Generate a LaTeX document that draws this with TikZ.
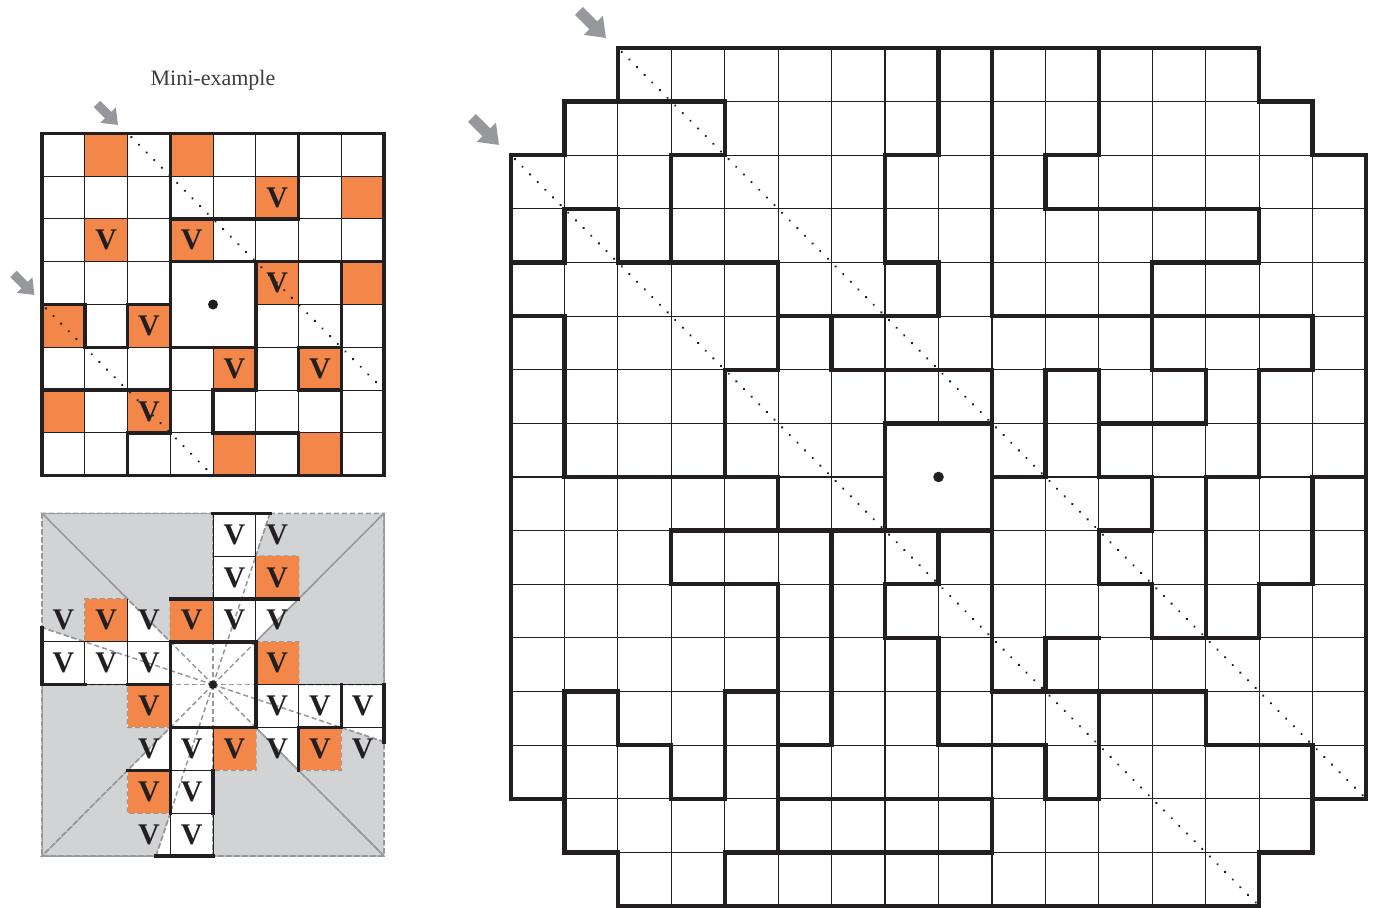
\documentclass[tikz,border=0pt]{standalone}
\usepackage{fontspec}
\setmainfont{Liberation Serif}
\usetikzlibrary{arrows.meta}
\definecolor{inkblack}{RGB}{35,31,32}
\definecolor{cellorange}{RGB}{243,135,73}
\definecolor{shadegray}{RGB}{209,211,212}
\definecolor{dashgray}{RGB}{150,152,155}
\definecolor{arrowgray}{RGB}{150,152,155}
\definecolor{titlegray}{RGB}{60,60,60}
\tikzset{
  gridline/.style={draw=inkblack,line width=0.6pt},
  minigrid/.style={draw=inkblack,line width=0.5pt},
  bigwall/.style={draw=inkblack,line width=2.15pt,line cap=rect,line join=miter},
  miniwall/.style={draw=inkblack,line width=1.75pt,line cap=rect,line join=miter},
  diagdots/.style={draw=inkblack,line width=1.3pt,line cap=round,dash pattern=on 0.01pt off 5.4pt,dash phase=2.7pt},
  orangecell/.style={fill=cellorange},
  vmark/.style={font=\fontsize{15}{15}\selectfont\bfseries,text=inkblack,inner sep=0pt},
  shadowzone/.style={fill=shadegray,draw=dashgray,line width=0.75pt,dash pattern=on 2.5pt off 1.5pt},
  sightray/.style={draw=dashgray,line width=0.75pt,dash pattern=on 2.5pt off 1.5pt},
  centredot/.style={circle,fill=inkblack,inner sep=0pt,minimum size=5pt},
  entryarrow/.style={draw=arrowgray,line width=5.5pt,-{Triangle[length=9pt,width=13pt]}},
  minientry/.style={draw=arrowgray,line width=4.5pt,-{Triangle[length=7pt,width=10.5pt]}},
  titletext/.style={font=\fontsize{11}{13}\selectfont,text=titlegray,anchor=base,inner sep=0pt}
}

\begin{document}
\begin{tikzpicture}[x=0.5pt,y=-0.5pt]
\useasboundingbox (0,0) rectangle (1377,908);

% entry arrows
\coordinate (bigtailA) at (579,11);
\coordinate (bigtipA) at (606,38);
\coordinate (bigtailB) at (472,118);
\coordinate (bigtipB) at (499,145);
\coordinate (minitailA) at (97,104);
\coordinate (minitipA) at (118,125);
\coordinate (minitailB) at (13.5,274);
\coordinate (minitipB) at (34.5,295);
\draw[entryarrow] (bigtailA) -- (bigtipA);
\draw[entryarrow] (bigtailB) -- (bigtipB);
\draw[minientry] (minitailA) -- (minitipA);
\draw[minientry] (minitailB) -- (minitipB);

\node[titletext] (minititle) at (213,85.5) {Mini-example};

% mini example, top
\begin{scope}[shift={(42,133.3)},x=21.375pt,y=-21.4pt]
\foreach \c/\r in {1/0,3/0,5/1,7/1,1/2,3/2,5/3,7/3,0/4,2/4,4/5,6/5,0/6,2/6,4/7,6/7}
  \fill[orangecell] (\c,\r) rectangle ++(1,1);
\foreach \i in {1,...,7} {
  \draw[minigrid] (\i,0) -- (\i,8);
  \draw[minigrid] (0,\i) -- (8,\i);
}
\fill[white] (3,3) rectangle (5,5);
\foreach \c/\r in {5/1,1/2,3/2,5/3,2/4,4/5,6/5,2/6}
  \node[vmark] (mv-\c-\r) at (\c+0.5,\r+0.5) {V};
\draw[diagdots] (2,0) -- (8,6);
\draw[diagdots] (0,4) -- (4,8);
\draw[miniwall] (0,0) rectangle (8,8);
\draw[miniwall]
  (3,0) -- (3,7)
  (6,0) -- (6,2) -- (3,2)
  (3,3) -- (8,3)
  (5,3) -- (5,6)
  (7,3) -- (7,8)
  (0,4) -- (1,4) -- (1,5) -- (2,5) -- (2,4) -- (3,4)
  (3,5) -- (5,5)
  (6,5) -- (7,5) (6,5) -- (6,6)
  (0,6) -- (3,6) (4,6) -- (5,6) (6,6) -- (7,6)
  (4,6) -- (4,7) -- (6,7) -- (6,8)
  (2,7) -- (3,7) (2,7) -- (2,8);
\node[centredot] (minicentre) at (4,4) {};
\end{scope}

% mini example, what is seen from the centre
\begin{scope}[shift={(42,513.3)},x=21.375pt,y=-21.42pt]
\path[shadowzone] (4,0) -- (4,2) -- (3,2) -- (3,3) -- (0,0) -- cycle;
\path[shadowzone] (0,0) -- (2,2) -- (1,2) -- (1,3) -- (0,8/3) -- cycle;
\path[shadowzone] (16/3,0) -- (8,0) -- (6,2) -- (6,1) -- (5,1) -- cycle;
\path[shadowzone] (5,3) -- (8,0) -- (8,4) -- (6,4) -- (6,3) -- cycle;
\path[shadowzone] (7,5) -- (8,16/3) -- (8,8) -- (6,6) -- (7,6) -- cycle;
\path[shadowzone] (5,5) -- (8,8) -- (4,8) -- (4,6) -- (5,6) -- cycle;
\path[shadowzone] (8/3,8) -- (0,8) -- (2,6) -- (2,7) -- (3,7) -- cycle;
\path[shadowzone] (0,4) -- (2,4) -- (2,5) -- (3,5) -- (0,8) -- cycle;
\foreach \c/\r in {5/1,1/2,3/2,5/3,2/4,4/5,6/5,2/6}
  \fill[orangecell] (\c,\r) rectangle ++(1,1);
\coordinate (seecentre) at (4,4);
\foreach \ex/\ey in {5.3333/0,8/0,8/4,8/5.3333,8/8,4/8,2.6667/8,0/8,0/4,0/2.6667,0/0,4/0}
  \draw[sightray] (seecentre) -- (\ex,\ey);
\draw[sightray] (0,0) rectangle (8,8);
\foreach \c/\r in {4/0,4/1,4/2,0/3,1/3,2/3,5/4,6/4,7/4,3/5,3/6,3/7}
  \draw[minigrid] (\c,\r) rectangle ++(1,1);
\draw[minigrid] (5,1) -- (5,2) -- (6,2) (1,3) -- (2,3) -- (2,2) (3,3) -- (4,3) -- (4,2)
  (5,3) -- (5,4) (3,4) -- (3,5) (4,5) -- (5,5) (7,5) -- (6,5) -- (6,6) (2,6) -- (3,6) -- (3,7);
\draw[miniwall]
  (4,0) -- (16/3,0) (0,8/3) -- (0,4) (8,4) -- (8,16/3) (8/3,8) -- (4,8)
  (3,2) -- (6,2) (3,3) -- (5,3) (3,3) -- (3,7) (5,3) -- (5,5) (7,4) -- (7,5)
  (0,4) -- (1,4) (2,4) -- (3,4) (3,5) -- (5,5) (6,5) -- (7,5) (6,5) -- (6,6)
  (2,6) -- (3,6) (4,6) -- (4,7);
\foreach \c/\r in {4/0,5/0,4/1,5/1,0/2,1/2,2/2,3/2,4/2,5/2,0/3,1/3,2/3,5/3,2/4,5/4,6/4,7/4,
                   2/5,3/5,4/5,5/5,6/5,7/5,2/6,3/6,2/7,3/7}
  \node[vmark] (sv-\c-\r) at (\c+0.5,\r+0.5) {V};
\node[centredot,minimum size=4.2pt] (seedot) at (seecentre) {};
\end{scope}

% full puzzle
\begin{scope}[shift={(511,48)},x=26.72pt,y=-26.8125pt]
\foreach \r/\a/\b in {0/2/13,1/1/14,2/0/15,3/0/15,4/0/15,5/0/15,6/0/15,7/0/15,
                      8/0/15,9/0/15,10/0/15,11/0/15,12/0/15,13/0/15,14/1/14,15/2/13}
  \foreach \c in {\a,...,\b}
    \draw[gridline] (\c,\r) rectangle ++(1,1);
\fill[white] (7,7) rectangle (9,9);
\draw[diagdots] (2,0) -- (16,14);
\draw[diagdots] (0,2) -- (14,16);
\draw[bigwall] (2,0) -- (14,0) -- (14,1) -- (15,1) -- (15,2) -- (16,2) -- (16,14) -- (15,14)
  -- (15,15) -- (14,15) -- (14,16) -- (2,16) -- (2,15) -- (1,15) -- (1,14) -- (0,14)
  -- (0,2) -- (1,2) -- (1,1) -- (2,1) -- cycle;
\draw[bigwall]
  (2,1) -- (4,1) -- (4,2) -- (3,2) -- (3,4)
  (1,4) -- (1,3) -- (2,3) -- (2,4)
  (0,4) -- (1,4)
  (2,4) -- (5,4) -- (5,6)
  (5,5) -- (8,5)
  (0,5) -- (1,5) -- (1,8) -- (5,8) -- (5,9)
  (6,5) -- (6,6) -- (9,6) -- (9,7)
  (4,6) -- (5,6) (4,6) -- (4,8)
  (8,0) -- (8,2) -- (7,2) -- (7,4) -- (8,4) -- (8,5)
  (9,0) -- (9,5) -- (15,5) -- (15,6) -- (14,6) -- (14,8) -- (13,8) -- (13,11)
  (11,0) -- (11,2) -- (10,2) -- (10,3) -- (14,3) -- (14,4) -- (12,4) -- (12,6) -- (13,6) -- (13,7) -- (11,7)
  (10,8) -- (10,6) -- (11,6) -- (11,8) -- (12,8) -- (12,9) -- (11,9) -- (11,10) -- (12,10) -- (12,11)
    -- (14,11) -- (14,10) -- (15,10) -- (15,8) -- (16,8)
  (9,8) -- (10,8)
  (7,7) rectangle (9,9)
  (9,9) -- (9,12) -- (13,12) -- (13,13) -- (15,13) -- (15,14)
  (3,9) -- (7,9)
  (3,9) -- (3,10) -- (5,10) -- (5,15)
  (5,13) -- (6,13) -- (6,9)
  (8,9) -- (8,10) -- (7,10) -- (7,11) -- (8,11) -- (8,13) -- (10,13) -- (10,14) -- (11,14) -- (11,12)
  (11,11) -- (10,11) -- (10,12)
  (1,12) -- (2,12) -- (2,13) -- (3,13) -- (3,14) -- (4,14) -- (4,12) -- (5,12)
  (1,12) -- (1,14)
  (5,14) -- (9,14) -- (9,15) -- (4,15) -- (4,16);
\node[centredot,minimum size=5.3pt] (bigcentre) at (8,8) {};
\end{scope}
\end{tikzpicture}
\end{document}
